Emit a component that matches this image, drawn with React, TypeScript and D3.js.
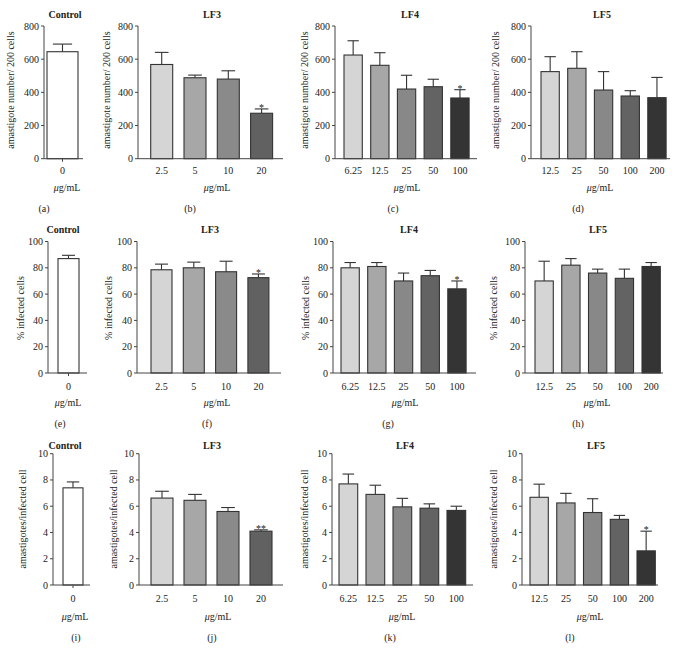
import React from "react";
import * as d3 from "d3";

// ---------- data ----------
const controlDoses = ["0"];
const lf3Doses = ["2.5", "5", "10", "20"];
const lf4Doses = ["6.25", "12.5", "25", "50", "100"];
const lf5Doses = ["12.5", "25", "50", "100", "200"];

const controlFill = ["#ffffff"];
const lf3Fill = ["#d5d5d5", "#a7a7a7", "#8a8a8a", "#616161"];
const lf45Fill = ["#d5d5d5", "#a7a7a7", "#888888", "#636363", "#343434"];

// amastigote number / 200 cells
const amaControl = [645];
const amaControlErr = [46];
const amaLF3 = [568, 488, 480, 274];
const amaLF3Err = [73, 16, 50, 26];
const amaLF3Sig = ["", "", "", "*"];
const amaLF4 = [625, 563, 420, 434, 366];
const amaLF4Err = [86, 76, 83, 45, 50];
const amaLF4Sig = ["", "", "", "", "*"];
const amaLF5 = [525, 545, 414, 378, 368];
const amaLF5Err = [90, 100, 111, 32, 122];
const amaLF5Sig = ["", "", "", "", ""];

// % infected cells
const infControl = [87];
const infControlErr = [2.5];
const infLF3 = [78.5, 80, 77, 72.5];
const infLF3Err = [4.3, 4.3, 8, 2.8];
const infLF3Sig = ["", "", "", "*"];
const infLF4 = [80, 81, 70, 74, 64];
const infLF4Err = [4, 3, 6, 4, 6];
const infLF4Sig = ["", "", "", "", "*"];
const infLF5 = [70, 82, 76, 72, 81];
const infLF5Err = [15, 5, 3, 7, 3];
const infLF5Sig = ["", "", "", "", ""];

// amastigotes / infected cell
const perControl = [7.4];
const perControlErr = [0.45];
const perLF3 = [6.62, 6.45, 5.6, 4.1];
const perLF3Err = [0.52, 0.45, 0.3, 0.1];
const perLF3Sig = ["", "", "", "**"];
const perLF4 = [7.7, 6.9, 5.95, 5.85, 5.68];
const perLF4Err = [0.75, 0.7, 0.65, 0.33, 0.32];
const perLF4Sig = ["", "", "", "", ""];
const perLF5 = [6.68, 6.25, 5.52, 5.0, 2.6];
const perLF5Err = [1.0, 0.73, 1.05, 0.3, 1.5];
const perLF5Sig = ["", "", "", "", "*"];

const row1Ticks = [0, 200, 400, 600, 800];
const row2Ticks = [0, 20, 40, 60, 80, 100];
const row3Ticks = [0, 2, 4, 6, 8, 10];

const titles = ["Control", "LF3", "LF4", "LF5"];
const letters = ["(a)", "(b)", "(c)", "(d)", "(e)", "(f)", "(g)", "(h)", "(i)", "(j)", "(k)", "(l)"];
const yLabels = ["amastigote number/ 200 cells", "% infected cells", "amastigotes/infected cell"];

// ---------- layout ----------
const FONT = "'Liberation Serif', 'DejaVu Serif', serif";

type Geo = {
  axisX: number; axisEnd: number; barStart: number; barW: number; step: number;
  ylabX: number; titleX: number; unitX: number; letterX: number;
};
type RowGeo = {
  yTop: number; yBot: number; titleY: number; tickY: number; unitY: number; letterY: number; ylabY: number;
};

const rowGeo: RowGeo[] = [
  { yTop: 26, yBot: 158.7, titleY: 18, tickY: 174, unitY: 191, letterY: 212, ylabY: 90 },
  { yTop: 241.5, yBot: 373, titleY: 233, tickY: 390, unitY: 406, letterY: 427, ylabY: 308 },
  { yTop: 453.7, yBot: 585, titleY: 449, tickY: 602, unitY: 620, letterY: 641, ylabY: 519 },
];

const panelGeo: Geo[][] = [
  [
    { axisX: 44, axisEnd: 83, barStart: 47, barW: 31, step: 31, ylabX: 10, titleX: 65, unitX: 67, letterX: 44, },
    { axisX: 138, axisEnd: 283, barStart: 150.7, barW: 22, step: 33.3, ylabX: 106, titleX: 212, unitX: 217, letterX: 190 },
    { axisX: 335, axisEnd: 477, barStart: 344, barW: 18.3, step: 26.7, ylabX: 304, titleX: 410, unitX: 407, letterX: 393 },
    { axisX: 531, axisEnd: 670, barStart: 541, barW: 18.3, step: 26.7, ylabX: 495, titleX: 602, unitX: 600, letterX: 578 },
  ],
  [
    { axisX: 48, axisEnd: 87, barStart: 58, barW: 21, step: 21, ylabX: 20, titleX: 63, unitX: 68, letterX: 60 },
    { axisX: 137, axisEnd: 281, barStart: 151, barW: 21, step: 32.3, ylabX: 108, titleX: 210, unitX: 217, letterX: 207 },
    { axisX: 333, axisEnd: 476, barStart: 341, barW: 18.3, step: 26.7, ylabX: 305, titleX: 409, unitX: 405, letterX: 388 },
    { axisX: 525, axisEnd: 663, barStart: 535, barW: 18.3, step: 26.75, ylabX: 493, titleX: 598, unitX: 597, letterX: 578 },
  ],
  [
    { axisX: 53, axisEnd: 90, barStart: 63, barW: 20, step: 20, ylabX: 22, titleX: 65, unitX: 75, letterX: 76 },
    { axisX: 139, axisEnd: 283, barStart: 151, barW: 22, step: 33, ylabX: 113, titleX: 212, unitX: 218, letterX: 212 },
    { axisX: 332, axisEnd: 473, barStart: 339, barW: 18.7, step: 27, ylabX: 304, titleX: 405, unitX: 402, letterX: 390 },
    { axisX: 522, axisEnd: 658, barStart: 530, barW: 18.3, step: 26.75, ylabX: 493, titleX: 596, unitX: 590, letterX: 570 },
  ],
];

type Series = { doses: string[]; values: number[]; errs: number[]; sig: string[]; fills: string[] };

const rowsData: { ticks: number[]; series: Series[] }[] = [
  {
    ticks: row1Ticks,
    series: [
      { doses: controlDoses, values: amaControl, errs: amaControlErr, sig: [""], fills: controlFill },
      { doses: lf3Doses, values: amaLF3, errs: amaLF3Err, sig: amaLF3Sig, fills: lf3Fill },
      { doses: lf4Doses, values: amaLF4, errs: amaLF4Err, sig: amaLF4Sig, fills: lf45Fill },
      { doses: lf5Doses, values: amaLF5, errs: amaLF5Err, sig: amaLF5Sig, fills: lf45Fill },
    ],
  },
  {
    ticks: row2Ticks,
    series: [
      { doses: controlDoses, values: infControl, errs: infControlErr, sig: [""], fills: controlFill },
      { doses: lf3Doses, values: infLF3, errs: infLF3Err, sig: infLF3Sig, fills: lf3Fill },
      { doses: lf4Doses, values: infLF4, errs: infLF4Err, sig: infLF4Sig, fills: lf45Fill },
      { doses: lf5Doses, values: infLF5, errs: infLF5Err, sig: infLF5Sig, fills: lf45Fill },
    ],
  },
  {
    ticks: row3Ticks,
    series: [
      { doses: controlDoses, values: perControl, errs: perControlErr, sig: [""], fills: controlFill },
      { doses: lf3Doses, values: perLF3, errs: perLF3Err, sig: perLF3Sig, fills: lf3Fill },
      { doses: lf4Doses, values: perLF4, errs: perLF4Err, sig: perLF4Sig, fills: lf45Fill },
      { doses: lf5Doses, values: perLF5, errs: perLF5Err, sig: perLF5Sig, fills: lf45Fill },
    ],
  },
];

function Panel({ s, g, r, ticks, title, letter, ylab }: { s: Series; g: Geo; r: RowGeo; ticks: number[]; title: string; letter: string; ylab: string }) {
  const n = s.doses.length;
  const span = (n - 1) * g.step + g.barW;
  const x = d3
    .scaleBand<string>()
    .domain(s.doses)
    .range([g.barStart, g.barStart + span])
    .paddingInner(n > 1 ? (g.step - g.barW) / g.step : 0)
    .paddingOuter(0);
  const y = d3.scaleLinear().domain([0, ticks[ticks.length - 1]]).range([r.yBot, r.yTop]);
  const bw = x.bandwidth();
  const capW = bw * 0.62;
  return (
    <g fontFamily={FONT} fill="#222">
      <text x={g.titleX} y={r.titleY} textAnchor="middle" fontSize={10} fontWeight="bold">{title}</text>
      {/* y axis */}
      <line x1={g.axisX} x2={g.axisX} y1={y(ticks[ticks.length - 1])} y2={y(0)} stroke="#444" strokeWidth={1} />
      {ticks.map((t) => (
        <g key={t}>
          <line x1={g.axisX - 3} x2={g.axisX} y1={y(t)} y2={y(t)} stroke="#444" strokeWidth={1} />
          <text x={g.axisX - 5} y={y(t)} dy="0.35em" textAnchor="end" fontSize={10}>{t}</text>
        </g>
      ))}
      <text transform={`translate(${g.ylabX},${r.ylabY}) rotate(-90)`} textAnchor="middle" dominantBaseline="central" fontSize={10}>{ylab}</text>
      {/* bars */}
      {s.doses.map((d, i) => {
        const bx = x(d) as number;
        const cx = bx + bw / 2;
        const top = y(s.values[i]);
        const et = y(s.values[i] + s.errs[i]);
        return (
          <g key={d}>
            <line x1={cx} x2={cx} y1={top} y2={et} stroke="#333" strokeWidth={1.1} />
            <line x1={cx - capW / 2} x2={cx + capW / 2} y1={et} y2={et} stroke="#333" strokeWidth={1.1} />
            <rect x={bx} y={top} width={bw} height={y(0) - top} fill={s.fills[i]} stroke="#333" strokeWidth={1.1} />
            {s.sig[i] ? (
              <text x={cx} y={et + 2} textAnchor="middle" fontSize={10}>{s.sig[i]}</text>
            ) : null}
            {n === 1 ? <line x1={cx} x2={cx} y1={y(0)} y2={y(0) + 3} stroke="#444" /> : null}
            <text x={cx} y={r.tickY} textAnchor="middle" fontSize={10}>{d}</text>
          </g>
        );
      })}
      {/* x axis */}
      <line x1={g.axisX} x2={g.axisEnd} y1={y(0)} y2={y(0)} stroke="#444" strokeWidth={1} />
      <text x={g.unitX} y={r.unitY} textAnchor="middle" fontSize={10}>
        <tspan fontStyle="italic">μ</tspan>g/mL
      </text>
      <text x={g.letterX} y={r.letterY} textAnchor="middle" fontSize={10}>{letter}</text>
    </g>
  );
}

export default function App() {
  return (
    <svg width={682} height={656} style={{ position: "absolute", left: 0, top: 0, background: "#fff" }}>
      <rect x={0} y={0} width={682} height={656} fill="#fff" />
      {rowsData.map((row, ri) =>
        row.series.map((s, pi) => (
          <Panel
            key={`${ri}-${pi}`}
            s={s}
            g={panelGeo[ri][pi]}
            r={rowGeo[ri]}
            ticks={row.ticks}
            title={titles[pi]}
            letter={letters[ri * 4 + pi]}
            ylab={yLabels[ri]}
          />
        ))
      )}
    </svg>
  );
}
